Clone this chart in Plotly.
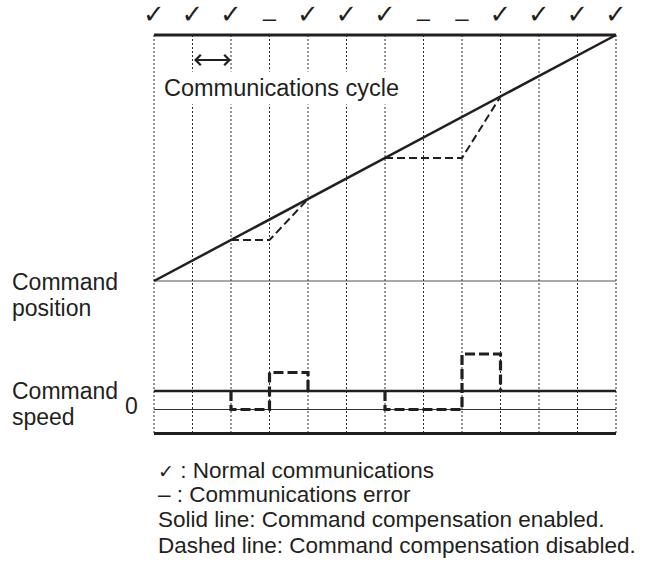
import plotly.graph_objects as go

# 通信周期序号与状态
cycle = [0, 1, 2, 3, 4, 5, 6, 7, 8, 9, 10, 11, 12]
status = ["✓", "✓", "✓", "–", "✓", "✓", "✓", "–", "–", "✓", "✓", "✓", "✓"]

# 指令位置（补偿有效：直线；补偿无效：虚线段）
pos_enabled = [0, 1, 2, 3, 4, 5, 6, 7, 8, 9, 10, 11, 12]
pos_disabled_x1 = [2, 3, 4]
pos_disabled_y1 = [2, 2, 4]
pos_disabled_x2 = [6, 8, 9]
pos_disabled_y2 = [6, 6, 9]
pos_top = 12
pos_base = 0
pos_bottom = -7.46

# 指令速度
speed_enabled = 1
speed_zero = 0
speed_frame = -1.3
spd_disabled_x1 = [2, 2, 3, 4]
spd_disabled_y1 = [1, 0, 2, 1]
spd_disabled_x2 = [6, 6, 8, 9]
spd_disabled_y2 = [1, 0, 3, 1]

legend_lines = [
    "<span style='font-family:DejaVu Sans;font-size:19px'>✓</span> : Normal communications",
    "– : Communications error",
    "Solid line: Command compensation enabled.",
    "Dashed line: Command compensation disabled.",
]

INK = "#231f20"
FONT = "Liberation Sans, Arial, sans-serif"
OFF = 0                 # body 边距已在页面里去掉
W, H = 664 - 2 * OFF, 570 - 2 * OFF
X0, XS = 154 - OFF, 38.5          # x=0 的像素位置与每周期像素
P0, PS = 281 - OFF, 20.5          # 位置轴
S0, SS = 409.5 - OFF, 18.5        # 速度轴


def px(p):
    return (p - OFF) / W


def py(p):
    return 1 - (p - OFF) / H


fig = go.Figure()

# 竖直点线（通信周期）
vx, vy = [], []
for c in cycle:
    vx += [c, c, None]
    vy += [pos_top, pos_bottom, None]
fig.add_trace(go.Scatter(x=vx, y=vy, mode="lines",
                         line=dict(color="#2b2b2b", width=1, dash="2px,2px")))

# 顶部粗线与基线
fig.add_trace(go.Scatter(x=[cycle[0], cycle[-1]], y=[pos_top, pos_top], mode="lines",
                         line=dict(color=INK, width=2.8)))
fig.add_trace(go.Scatter(x=[cycle[0], cycle[-1]], y=[pos_base, pos_base], mode="lines",
                         line=dict(color="#555555", width=1.2)))

# 位置：补偿无效虚线
for xs, ys in [(pos_disabled_x1, pos_disabled_y1), (pos_disabled_x2, pos_disabled_y2)]:
    fig.add_trace(go.Scatter(x=xs, y=ys, mode="lines",
                             line=dict(color=INK, width=2, dash="8px,4px")))

# 位置：补偿有效实线
fig.add_trace(go.Scatter(x=cycle, y=pos_enabled, mode="lines",
                         line=dict(color=INK, width=2.5)))

# 通信状态符号（正常 ✓ / 异常 –）
ok_x = [c for c, s in zip(cycle, status) if s == "✓"]
err_x = [c for c, s in zip(cycle, status) if s == "–"]
fig.add_trace(go.Scatter(x=ok_x, y=[12.88] * len(ok_x), mode="text", text=["✓"] * len(ok_x),
                         cliponaxis=False,
                         textfont=dict(family="DejaVu Sans", size=26, color=INK)))
fig.add_trace(go.Scatter(x=err_x, y=[12.75] * len(err_x), mode="text", text=["–"] * len(err_x),
                         cliponaxis=False,
                         textfont=dict(family=FONT, size=24, color=INK)))

# 速度
fig.add_trace(go.Scatter(x=[cycle[0], cycle[-1]], y=[speed_zero, speed_zero], mode="lines",
                         line=dict(color="#333333", width=1.2), yaxis="y2"))
fig.add_trace(go.Scatter(x=[cycle[0], cycle[-1]], y=[speed_frame, speed_frame], mode="lines",
                         line=dict(color=INK, width=3), yaxis="y2"))
fig.add_trace(go.Scatter(x=[cycle[0], cycle[-1]], y=[speed_enabled, speed_enabled], mode="lines",
                         line=dict(color=INK, width=2.3), yaxis="y2"))
for xs, ys in [(spd_disabled_x1, spd_disabled_y1), (spd_disabled_x2, spd_disabled_y2)]:
    fig.add_trace(go.Scatter(x=xs, y=ys, mode="lines", line_shape="hv",
                             line=dict(color=INK, width=3.2, dash="10px,4px"), yaxis="y2"))


def label(x, y, text, size=23, xanchor="left"):
    return dict(x=px(x), y=py(y), xref="paper", yref="paper", text=text,
                xanchor=xanchor, yanchor="middle", showarrow=False,
                font=dict(family=FONT, size=size, color=INK))


annotations = [
    # 通信周期箭头
    dict(x=2, y=10.78, ax=1, ay=10.78, xref="x", yref="y", axref="x", ayref="y",
         text="", showarrow=True, arrowhead=4, startarrowhead=4, arrowside="end+start",
         arrowwidth=2, arrowcolor=INK, arrowsize=1, standoff=0, startstandoff=0),
    dict(label(281.5, 88, "Communications cycle", size=23.5, xanchor="center"),
         bgcolor="white", borderpad=3),
    label(10, 281.5, "Command"),
    label(10, 307.5, "position"),
    label(10, 391, "Command"),
    label(10, 416.5, "speed"),
    label(131, 406, "0", size=23, xanchor="center"),
]
for i, (line, yy) in enumerate(zip(legend_lines, [470, 494.5, 519, 545])):
    annotations.append(label(156, yy, line, size=22.5))

fig.update_layout(
    width=W, height=H,
    margin=dict(l=0, r=0, t=0, b=0),
    paper_bgcolor="white", plot_bgcolor="white",
    showlegend=False,
    hovermode=False,
    xaxis=dict(range=[-X0 / XS, (W - X0) / XS], visible=False, fixedrange=True),
    yaxis=dict(range=[(P0 - H) / PS, P0 / PS], visible=False, fixedrange=True),
    yaxis2=dict(range=[(S0 - H) / SS, S0 / SS], visible=False,
                overlaying="y", fixedrange=True),
    annotations=annotations,
)

fig.write_html("out.html", config={"displayModeBar": False, "staticPlot": True},
               post_script="document.body.style.margin='0';")
